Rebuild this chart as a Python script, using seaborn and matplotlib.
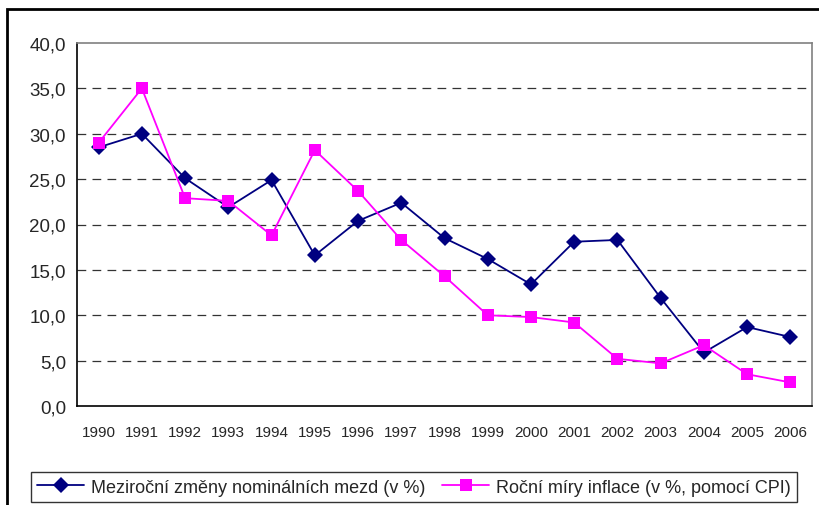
import pandas as pd
import matplotlib.pyplot as plt
import seaborn as sns
from matplotlib.patches import Rectangle
from matplotlib.ticker import MultipleLocator, FixedLocator, FuncFormatter

years = list(range(1990, 2007))
mzdy = [28.5, 30.0, 25.1, 21.9, 24.9, 16.6, 20.4, 22.4, 18.5, 16.2, 13.4, 18.1, 18.3, 11.9, 5.9, 8.7, 7.6]
inflace = [29.0, 35.0, 22.9, 22.6, 18.8, 28.2, 23.7, 18.3, 14.3, 10.0, 9.8, 9.2, 5.2, 4.7, 6.7, 3.5, 2.6]

lab_mzdy = "Meziroční změny nominálních mezd (v %)"
lab_infl = "Roční míry inflace (v %, pomocí CPI)"

df = pd.DataFrame({"rok": years, lab_mzdy: mzdy, lab_infl: inflace})
long = df.melt(id_vars="rok", var_name="serie", value_name="hodnota")

sns.set_style("white")
plt.rcParams['font.family'] = ['Liberation Sans', 'DejaVu Sans']

fig = plt.figure(figsize=(8.2, 5.06), dpi=100)
ax = fig.add_axes([77/820, 1-407/506, (812-77)/820, (407-44)/506])

sns.lineplot(data=long, x="rok", y="hodnota", hue="serie", style="serie",
             palette={lab_mzdy: "#000080", lab_infl: "#FF00FF"},
             markers={lab_mzdy: "D", lab_infl: "s"},
             dashes={lab_mzdy: "", lab_infl: ""},
             markersize=8, linewidth=1.3, markeredgewidth=0, ax=ax, legend=True)

ax.set_xlim(1989.5, 2006.5)
ax.set_ylim(0, 40)
ax.yaxis.set_major_locator(MultipleLocator(5))
ax.yaxis.set_major_formatter(FuncFormatter(lambda v, p: f"{v:.1f}".replace(".", ",")))
ax.xaxis.set_major_locator(FixedLocator(years))
ax.xaxis.set_minor_locator(FixedLocator([y - 0.5 for y in years] + [2006.5]))
ax.tick_params(axis='x', which='major', length=0, pad=14, labelsize=11)
ax.tick_params(axis='x', which='minor', length=5, width=1, color='black', direction='out')
ax.tick_params(axis='y', length=5, width=1, color='black', direction='out', labelsize=13.5, pad=3)
ax.set_xlabel("")
ax.set_ylabel("")

for v in range(5, 40, 5):
    ax.axhline(v, color='#333333', lw=0.9, ls=(0, (7, 5)), zorder=0)

for s in ['left', 'bottom']:
    ax.spines[s].set_color('black')
    ax.spines[s].set_linewidth(1.2)
for s in ['top', 'right']:
    ax.spines[s].set_color('#808080')
    ax.spines[s].set_linewidth(1.2)

handles, labels = ax.get_legend_handles_labels()
ax.get_legend().remove()
leg = fig.legend(handles, labels, loc='center', bbox_to_anchor=(0.505, 0.035), ncol=2,
                 frameon=True, fancybox=False, fontsize=13, handlelength=2.6,
                 columnspacing=0.9, handletextpad=0.4, borderpad=0.35)
leg.get_frame().set_edgecolor('black')
leg.get_frame().set_linewidth(1.0)

top = 1 - 10/506
fig.patches.append(Rectangle((7/820, -0.2), 1.2, top + 0.2, transform=fig.transFigure,
                             fill=False, edgecolor='black', lw=2))

fig.savefig("out.png", dpi=100)
